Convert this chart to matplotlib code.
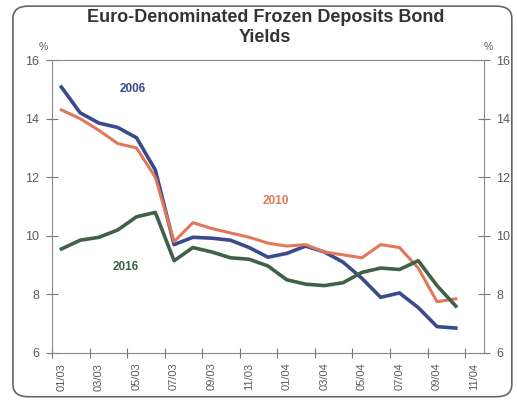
import matplotlib
matplotlib.use('Agg')
import matplotlib.pyplot as plt
from matplotlib.patches import FancyBboxPatch

plt.rcParams['font.family'] = ['Liberation Sans', 'DejaVu Sans']

months = ['01/03', '02/03', '03/03', '04/03', '05/03', '06/03', '07/03', '08/03',
          '09/03', '10/03', '11/03', '12/03', '01/04', '02/04', '03/04', '04/04',
          '05/04', '06/04', '07/04', '08/04', '09/04', '10/04', '11/04']

# yields by month, Jan 03 .. Oct 04
y2006 = [15.08, 14.2, 13.85, 13.7, 13.35, 12.25, 9.7, 9.95, 9.92, 9.85, 9.6,
         9.27, 9.4, 9.65, 9.45, 9.1, 8.55, 7.9, 8.05, 7.55, 6.9, 6.85]
y2010 = [14.3, 14.0, 13.6, 13.15, 13.0, 12.0, 9.8, 10.45, 10.25, 10.1, 9.95,
         9.75, 9.65, 9.7, 9.45, 9.35, 9.25, 9.7, 9.6, 8.9, 7.75, 7.85]
y2016 = [9.55, 9.85, 9.95, 10.2, 10.65, 10.8, 9.15, 9.6, 9.45, 9.25, 9.2,
         8.97, 8.5, 8.35, 8.3, 8.4, 8.75, 8.9, 8.85, 9.15, 8.3, 7.6]

c_blue = '#3b4a8c'
c_red = '#e2775a'
c_green = '#3f6148'
txt = '#5a5a5a'

fig = plt.figure(figsize=(5.17, 4.09), dpi=100)
fig.patches.append(FancyBboxPatch((0.025, 0.03), 0.965, 0.955,
                                  boxstyle='round,pad=0,rounding_size=0.03',
                                  transform=fig.transFigure, fill=False,
                                  edgecolor='#666666', linewidth=1.2))

ax = fig.add_axes([0.1006, 0.137, 0.8355, 0.716])
x = list(range(len(y2006)))
ax.plot(x, y2006, color=c_blue, lw=2.6)
ax.plot(x, y2010, color=c_red, lw=2.2)
ax.plot(x, y2016, color=c_green, lw=2.6)

ax.set_xlim(-0.5, len(months) - 0.5)
ax.set_ylim(6, 16)
ax.set_yticks([6, 8, 10, 12, 14, 16])
# ticks sit on the month boundaries, labels in the middle of every other month
ax.set_xticks([i - 0.5 for i in range(0, len(months), 2)])
ax.set_xticklabels([])
ax.set_xticks(list(range(0, len(months), 2)), minor=True)
ax.set_xticklabels(months[::2], minor=True, rotation=90, fontsize=8, color=txt)
ax.tick_params(axis='x', which='major', direction='inout', length=7, color='#777777')
ax.tick_params(axis='x', which='minor', length=0, pad=7)
ax.tick_params(axis='y', direction='inout', length=8, color='#777777',
               labelsize=9, labelcolor=txt, left=True, right=True,
               labelleft=True, labelright=True, pad=5)
for s in ax.spines.values():
    s.set_color('#888888')
    s.set_linewidth(0.8)

ax.text(-0.01, 1.035, '%', transform=ax.transAxes, fontsize=7.5, color=txt, ha='right')
ax.text(1.0, 1.035, '%', transform=ax.transAxes, fontsize=7.5, color=txt)

fig.text(0.513, 0.957, 'Euro-Denominated Frozen Deposits Bond', ha='center',
         va='center', fontsize=13, fontweight='bold', color='#333333')
fig.text(0.513, 0.908, 'Yields', ha='center', va='center', fontsize=13,
         fontweight='bold', color='#333333')

ax.text(3.8, 15.0, '2006', color=c_blue, fontsize=8.5, fontweight='bold', ha='center', va='center')
ax.text(11.4, 11.2, '2010', color=c_red, fontsize=8.5, fontweight='bold', ha='center', va='center')
ax.text(3.4, 8.95, '2016', color=c_green, fontsize=8.5, fontweight='bold', ha='center', va='center')

fig.savefig('out.png', dpi=100)
